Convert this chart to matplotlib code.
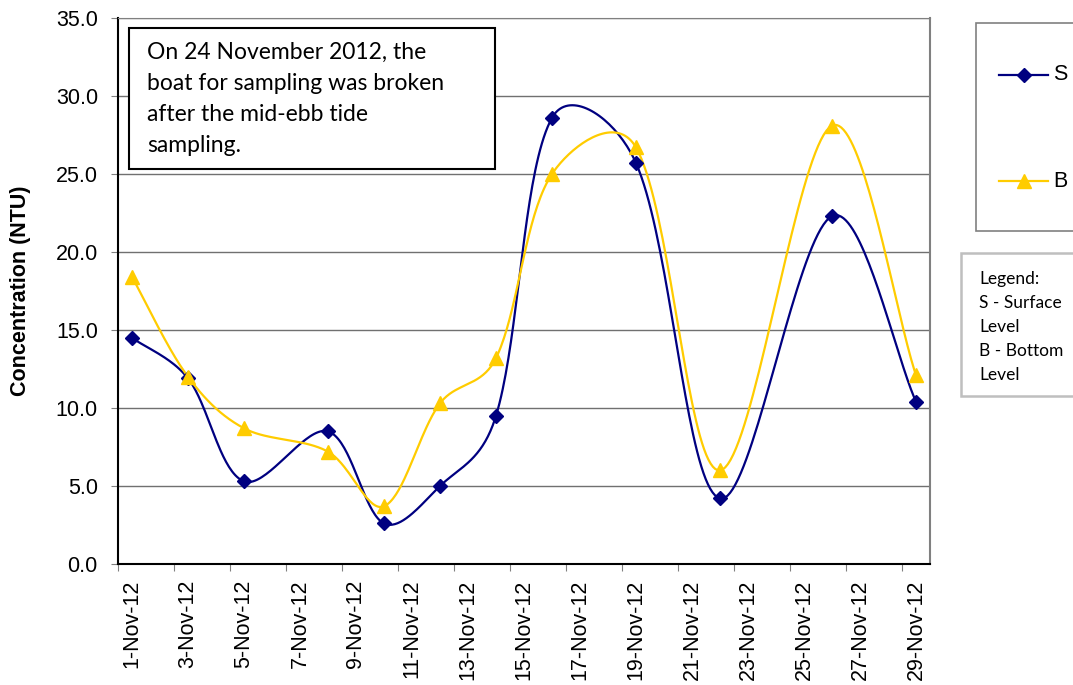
import numpy as np
import matplotlib
matplotlib.use('Agg')
import matplotlib.pyplot as plt
from matplotlib.lines import Line2D
from matplotlib.patches import Rectangle

# sampling days in November 2012 and turbidity readings (NTU)
days = [1, 3, 5, 8, 10, 12, 14, 16, 19, 22, 26, 29]
surface = [14.5, 11.9, 5.3, 8.5, 2.6, 5.0, 9.5, 28.6, 25.7, 4.2, 22.3, 10.4]
bottom = [18.4, 12.0, 8.7, 7.2, 3.7, 10.3, 13.2, 25.0, 26.7, 6.0, 28.1, 12.1]

tick_days = list(range(1, 30, 2))
tick_labels = ['%d-Nov-12' % d for d in tick_days]
y_ticks = [0, 5, 10, 15, 20, 25, 30, 35]

note = 'On 24 November 2012, the\nboat for sampling was broken\nafter the mid-ebb tide\nsampling.'
key_text = 'Legend:\nS - Surface\nLevel\nB - Bottom\nLevel'

navy = '#000080'
gold = '#FFCC00'


def smooth(xs, ys, sx=28.0, sy=15.6, n=40):
    # Excel-like smoothed line: Bezier with tangents partly weighted by chord length (pixel units)
    p = np.column_stack([np.asarray(xs, float) * sx, np.asarray(ys, float) * sy])
    p = np.vstack([p[0], p, p[-1]])
    out = []
    for i in range(1, len(p) - 2):
        p0, p3 = p[i], p[i + 1]
        d01 = np.hypot(*(p[i] - p[i - 1]))
        d12 = np.hypot(*(p[i + 1] - p[i]))
        d23 = np.hypot(*(p[i + 2] - p[i + 1]))
        f1 = 0.5 / 6 + 0.5 * d12 / (d01 + d12) / 3.0
        f2 = 0.5 / 6 + 0.5 * d12 / (d12 + d23) / 3.0
        c1 = p0 + (p[i + 1] - p[i - 1]) * f1
        c2 = p3 - (p[i + 2] - p[i]) * f2
        t = np.linspace(0, 1, n)[:, None]
        seg = ((1 - t) ** 3) * p0 + 3 * ((1 - t) ** 2) * t * c1 + 3 * (1 - t) * t ** 2 * c2 + t ** 3 * p3
        out.append(seg if i == 1 else seg[1:])
    seg = np.vstack(out)
    return seg[:, 0] / sx, seg[:, 1] / sy


W, H = 1073, 685
fig = plt.figure(figsize=(W / 100, H / 100), dpi=100)
ax = fig.add_axes([118 / W, 1 - 564 / H, 812 / W, 546 / H])

for vals, col, mk, ms in [(surface, navy, 'D', 6.8), (bottom, gold, '^', 9.5)]:
    cx, cy = smooth(days, vals)
    ax.plot(cx, cy, color=col, lw=1.6, zorder=3)
    ax.plot(days, vals, ls='none', marker=mk, ms=ms, color=col, zorder=4)

ax.set_xlim(0.5, 29.5)
ax.set_ylim(0, 35)
ax.set_yticks(y_ticks)
ax.set_yticklabels(['%.1f' % v for v in y_ticks], fontsize=15.5, family='Liberation Sans')
ax.yaxis.grid(True, color='#707070', lw=1)
ax.set_axisbelow(True)

ax.set_xticks(np.arange(0.5, 29, 2))
ax.set_xticklabels([])
ax.set_xticks(tick_days, minor=True)
ax.set_xticklabels(tick_labels, minor=True, rotation=90, fontsize=15.5, family='Liberation Sans')
ax.tick_params(axis='x', which='major', length=5, color='#808080', direction='out')
ax.tick_params(axis='x', which='minor', length=0, pad=11)
ax.tick_params(axis='y', length=5, color='#808080', pad=9.5)

ax.spines['left'].set_color('black')
ax.spines['bottom'].set_color('black')
ax.spines['left'].set_linewidth(1.5)
ax.spines['bottom'].set_linewidth(1.5)
ax.spines['top'].set_color('#808080')
ax.spines['right'].set_color('#808080')
ax.spines['right'].set_linewidth(1.5)

ax.set_ylabel('Concentration (NTU)', fontsize=15.5, fontweight='bold', family='Liberation Sans', labelpad=18)

# note box
fig.add_artist(Rectangle((129 / W, 1 - 169 / H), 366 / W, 141 / H, transform=fig.transFigure,
                         facecolor='white', edgecolor='black', lw=1.5, zorder=5))
fig.text(147 / W, 1 - 42 / H, note, fontsize=16.5, family='Lato', va='top', ha='left',
         linespacing=1.58, zorder=6)

# series legend
fig.add_artist(Rectangle((976 / W, 1 - 231 / H), 120 / W, 208 / H, transform=fig.transFigure,
                         facecolor='white', edgecolor='#808080', lw=1.2, clip_on=False))
for yy, col, mk, ms, lab in [(75, navy, 'D', 6.8, 'S'), (181, gold, '^', 9.5, 'B')]:
    fig.add_artist(Line2D([999 / W, 1048 / W], [1 - yy / H, 1 - yy / H], transform=fig.transFigure,
                          color=col, lw=1.6))
    fig.add_artist(Line2D([1024 / W], [1 - yy / H], transform=fig.transFigure,
                          ls='none', marker=mk, ms=ms, color=col))
    fig.text(1053 / W, 1 - yy / H, lab, fontsize=15.5, family='Liberation Sans', va='center', ha='left')

# text legend
fig.add_artist(Rectangle((961 / W, 1 - 396 / H), 130 / W, 143 / H, transform=fig.transFigure,
                         facecolor='white', edgecolor='#bfbfbf', lw=1.8, clip_on=False))
fig.text(979 / W, 1 - 271 / H, key_text, fontsize=12.5, family='Lato', va='top', ha='left',
         linespacing=1.62)

fig.savefig('out.png', dpi=100)
